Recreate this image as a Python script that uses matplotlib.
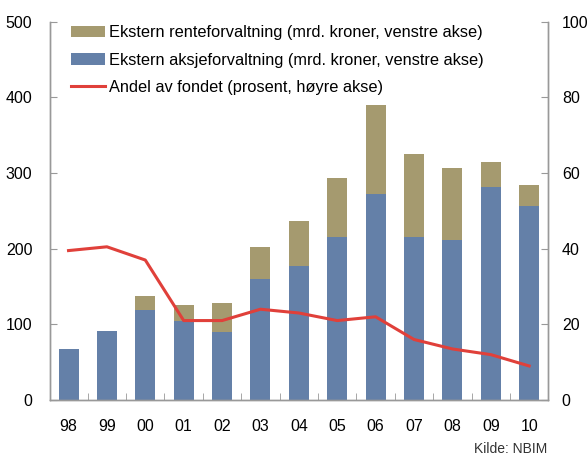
import matplotlib
matplotlib.use("Agg")
import matplotlib.pyplot as plt
import numpy as np

years = ["98", "99", "00", "01", "02", "03", "04", "05", "06", "07", "08", "09", "10"]
aksje = [68, 91, 119, 104, 90, 160, 177, 215, 272, 215, 212, 282, 257]
total = [68, 91, 137, 125, 128, 202, 236, 294, 390, 325, 307, 315, 284]
rente = [t - a for t, a in zip(total, aksje)]
andel = [39.5, 40.5, 37, 21, 21, 24, 23, 21, 22, 16, 13.5, 12, 9]

plt.rcParams['font.family'] = ['Liberation Sans', 'DejaVu Sans']
tan = "#A59A6F"
blue = "#6480A8"
red = "#E0403A"
gray = "#999999"

fig = plt.figure(figsize=(5.87, 4.57), dpi=100)
ax = fig.add_axes([0.086, 0.1247, 0.8475, 0.8278])
x = np.arange(len(years))
w = 0.52
ax.bar(x, aksje, w, color=blue, label="Ekstern aksjeforvaltning (mrd. kroner, venstre akse)", zorder=2)
ax.bar(x, rente, w, bottom=aksje, color=tan, label="Ekstern renteforvaltning (mrd. kroner, venstre akse)", zorder=2)
ax.set_ylim(0, 500)
ax.set_xlim(-0.47, len(years) - 0.51)
ax.set_yticks(range(0, 501, 100))
ax2 = ax.twinx()
ln, = ax2.plot(x, andel, color=red, lw=2.2, label="Andel av fondet (prosent, høyre akse)", zorder=3)
ax2.set_ylim(0, 100)
ax2.set_yticks(range(0, 101, 20))

for a in (ax, ax2):
    a.spines['top'].set_visible(False)
    for s in ('left', 'right', 'bottom'):
        a.spines[s].set_color(gray)
        a.spines[s].set_linewidth(1.0)
ax.tick_params(axis='y', direction='in', length=5, color=gray, labelsize=11.5, pad=13)
ax2.tick_params(axis='y', direction='in', length=5, color=gray, labelsize=11.5, pad=10)
ax.set_xticks(x)
ax.set_xticklabels(years)
ax.tick_params(axis='x', length=0, labelsize=11.5, pad=14)
ax.set_xticks(np.arange(0.5, len(years) - 1, 1), minor=True)
ax.tick_params(axis='x', which='minor', direction='in', length=5, color=gray)

h1, l1 = ax.get_legend_handles_labels()
handles = [h1[1], h1[0], ln]
labels = [l1[1], l1[0], ln.get_label()]
leg = ax.legend(handles, labels, loc='upper left', bbox_to_anchor=(0.012, 1.03), frameon=False,
                fontsize=11.75, handlelength=2.05, handleheight=0.7, handletextpad=0.25, labelspacing=0.77)
fig.text(0.932, 0.002, "Kilde: NBIM", ha='right', va='bottom', fontsize=10, color="#333333")
fig.savefig("out.png", dpi=100)
